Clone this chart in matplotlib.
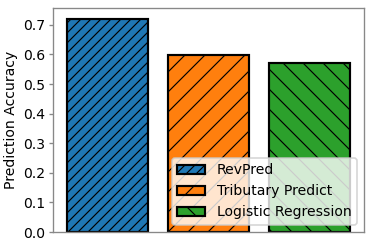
import matplotlib
matplotlib.use("Agg")
import matplotlib.pyplot as plt

methods = ["RevPred", "Tributary Predict", "Logistic Regression"]
accuracy = [0.721, 0.599, 0.571]
colors = ["#1f77b4", "#ff7f0e", "#2ca02c"]
hatches = ["////", "//", "\\\\"]

DPI = 120
plt.rcParams["font.size"] = 8.4
plt.rcParams["hatch.linewidth"] = 0.7

fig, ax = plt.subplots(figsize=(374 / DPI, 249 / DPI), dpi=DPI)
for i, (name, val) in enumerate(zip(methods, accuracy)):
    ax.bar(i, val, width=0.8, color=colors[i], edgecolor="black",
           linewidth=1.3, hatch=hatches[i], label=name)

ax.set_ylabel("Prediction Accuracy", labelpad=3)
ax.set_xticks([])
for s in ax.spines.values():
    s.set_color("#888888")
ax.tick_params(axis="y", color="#888888", length=2.6, pad=2)
ax.legend(loc="lower right")
fig.subplots_adjust(left=0.142, right=0.973, top=0.968, bottom=0.068)
fig.savefig("out.png", dpi=DPI)
